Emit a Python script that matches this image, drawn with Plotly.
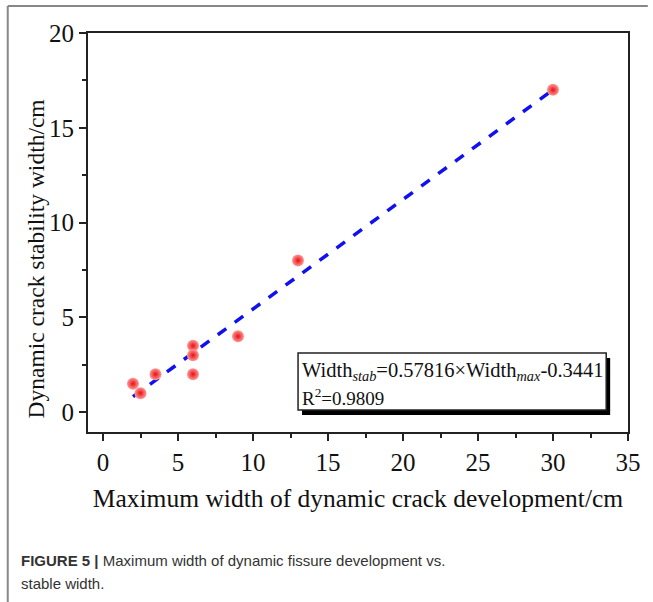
import plotly.graph_objects as go

# Data
max_width = [2, 2.5, 3.5, 6, 6, 6, 9, 13, 30]
stab_width = [1.5, 1.0, 2.0, 3.5, 3.0, 2.0, 4.0, 8.0, 17.0]
slope = 0.57816
intercept = -0.3441
fit_x = [2, 30]
fit_y = [slope * v + intercept for v in fit_x]

x_ticks = [0, 5, 10, 15, 20, 25, 30, 35]
y_ticks = [0, 5, 10, 15, 20]

W, H = 653, 602
L, R, T, B = 88, 633, 33, 432

def px(x):
    return (x - L) / (R - L)

def py(y):
    return (B - y) / (B - T)

fig = go.Figure()
fig.add_trace(go.Scatter(x=fit_x, y=fit_y, mode="lines",
                         line=dict(color="#1010f0", width=3.5, dash="dash"),
                         showlegend=False))
fig.add_trace(go.Scatter(x=max_width, y=stab_width, mode="markers",
                         marker=dict(size=12, color="#ff9a9a",
                                     gradient=dict(type="radial", color="#e80f0f"),
                                     line=dict(width=0)),
                         showlegend=False))

serif = "Liberation Serif, Times New Roman, serif"
base = dict(showline=True, linecolor="#222", linewidth=2, mirror=True,
            ticks="outside", ticklen=7, tickwidth=1.5, tickcolor="#222",
            showgrid=False, zeroline=False,
            tickfont=dict(family=serif, size=25, color="#111"),
            minor=dict(ticks="outside", ticklen=4, tickwidth=1.5, tickcolor="#222", dtick=2.5, tick0=0))

fig.update_xaxes(range=[-1, 35], tickvals=x_ticks, **base,
                 title=dict(text="Maximum width of dynamic crack development/cm",
                            font=dict(family=serif, size=25.5, color="#111"), standoff=14))
fig.update_yaxes(range=[-1.05, 20], tickvals=y_ticks, **base)

# y-axis title
fig.add_annotation(xref="paper", yref="paper", x=px(36), y=py(259),
                   xanchor="center", yanchor="middle", showarrow=False, textangle=-90,
                   text="Dynamic crack stability width/cm",
                   font=dict(family=serif, size=23.5, color="#111"))

# equation box with shadow
bx0, bx1, by0, by1 = 300, 611, 353, 410
fig.add_shape(type="rect", xref="paper", yref="paper",
              x0=px(bx0 + 4), x1=px(bx1 + 4), y0=py(by1 + 5), y1=py(by0 + 5),
              fillcolor="#000", line=dict(width=0))
fig.add_shape(type="rect", xref="paper", yref="paper",
              x0=px(bx0), x1=px(bx1), y0=py(by1), y1=py(by0),
              fillcolor="white", line=dict(color="#222", width=1.5))
fig.add_annotation(xref="paper", yref="paper", x=px(bx0 + 2), y=py(by0 + 18),
                   xanchor="left", yanchor="middle", showarrow=False, align="left",
                   text="Width<sub><i>stab</i></sub>=0.57816×Width<sub><i>max</i></sub>-0.3441",
                   font=dict(family=serif, size=20.5, color="#111"))
fig.add_annotation(xref="paper", yref="paper", x=px(bx0 + 2), y=py(by0 + 44),
                   xanchor="left", yanchor="middle", showarrow=False, align="left",
                   text="R<sup>2</sup>=0.9809",
                   font=dict(family=serif, size=19, color="#111"))

# figure frame lines
fig.add_shape(type="line", xref="paper", yref="paper",
              x0=px(7), x1=px(W), y0=py(6), y1=py(6), line=dict(color="#888", width=2))
fig.add_shape(type="line", xref="paper", yref="paper",
              x0=px(7), x1=px(7), y0=py(6), y1=py(H), line=dict(color="#888", width=2))

# caption
cap_font = dict(family="Liberation Sans, Arial", size=15, color="#333")
fig.add_annotation(xref="paper", yref="paper", x=px(18), y=py(560),
                   xanchor="left", yanchor="middle", showarrow=False, align="left",
                   text="<b>FIGURE 5 |</b> Maximum width of dynamic fissure development vs.",
                   font=cap_font)
fig.add_annotation(xref="paper", yref="paper", x=px(18), y=py(583),
                   xanchor="left", yanchor="middle", showarrow=False, align="left",
                   text="stable width.", font=cap_font)

fig.update_layout(width=W, height=H, margin=dict(l=L, r=W - R, t=T, b=H - B),
                  paper_bgcolor="white", plot_bgcolor="white")
fig.write_html("out.html")
